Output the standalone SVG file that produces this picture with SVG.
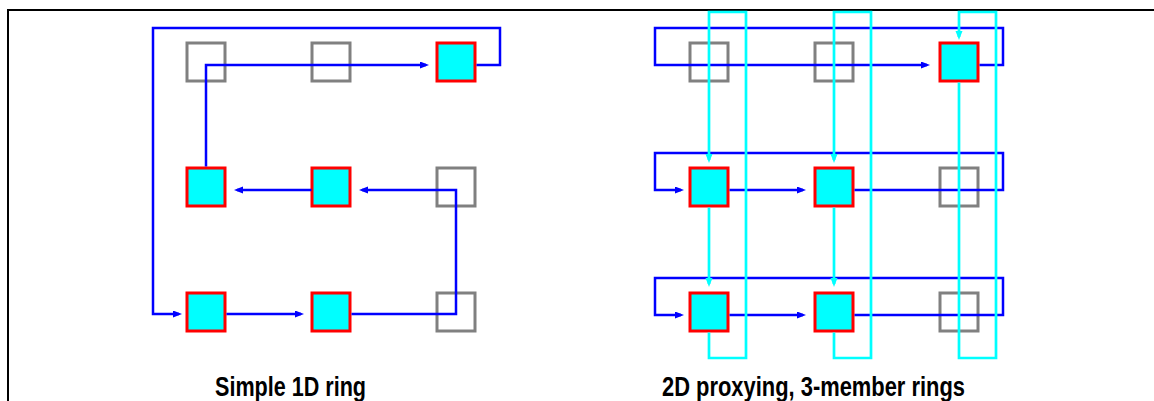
<svg xmlns="http://www.w3.org/2000/svg" width="1154" height="401" viewBox="0 0 1154 401">
<style>
.g{fill:none;stroke:#808080;stroke-width:3}
.r{fill:#00FFFF;stroke:#FF0000;stroke-width:3}
.b{fill:none;stroke:#0000FF;stroke-width:2.5}
.c{fill:none;stroke:#00FFFF;stroke-width:2.7}
.t{font-family:"Liberation Sans",Arial,sans-serif;font-weight:bold;font-size:28px;fill:#000}
</style>
<defs>
<marker id="ab" markerUnits="userSpaceOnUse" markerWidth="10" markerHeight="8" refX="6" refY="3.5" orient="auto"><path d="M0,0 L9,3.5 L0,7 z" fill="#0000FF"/></marker>
<marker id="ac" markerUnits="userSpaceOnUse" markerWidth="10" markerHeight="8" refX="6" refY="3.5" orient="auto"><path d="M0,0 L9,3.5 L0,7 z" fill="#00FFFF"/></marker>
</defs>
<rect width="1154" height="401" fill="#fff"/>
<path d="M8,402 V10 H1156" fill="none" stroke="#000" stroke-width="2"/>
<g id="left-nodes">
<g id="L11"><rect class="g" x="187" y="43" width="38" height="38"/></g>
<g id="L12"><rect class="g" x="312" y="43" width="38" height="38"/></g>
<g id="L13"><rect class="r" x="437" y="43" width="38" height="38"/></g>
<g id="L21"><rect class="r" x="187" y="168" width="38" height="38"/></g>
<g id="L22"><rect class="r" x="312" y="168" width="38" height="38"/></g>
<g id="L23"><rect class="g" x="437" y="168" width="38" height="38"/></g>
<g id="L31"><rect class="r" x="187" y="293" width="38" height="38"/></g>
<g id="L32"><rect class="r" x="312" y="293" width="38" height="38"/></g>
<g id="L33"><rect class="g" x="437" y="293" width="38" height="38"/></g>
</g>
<g id="right-nodes">
<g id="R11"><rect class="g" x="690" y="43" width="38" height="38"/></g>
<g id="R12"><rect class="g" x="815" y="43" width="38" height="38"/></g>
<g id="R13"><rect class="r" x="940" y="43" width="38" height="38"/></g>
<g id="R21"><rect class="r" x="690" y="168" width="38" height="38"/></g>
<g id="R22"><rect class="r" x="815" y="168" width="38" height="38"/></g>
<g id="R23"><rect class="g" x="940" y="168" width="38" height="38"/></g>
<g id="R31"><rect class="r" x="690" y="293" width="38" height="38"/></g>
<g id="R32"><rect class="r" x="815" y="293" width="38" height="38"/></g>
<g id="R33"><rect class="g" x="940" y="293" width="38" height="38"/></g>
</g>
<g id="connectors">
<path class="b" d="M476.5,65 H500 V28 H153 V314 H179" marker-end="url(#ab)"/>
<path class="b" d="M226.5,314 H301" marker-end="url(#ab)"/>
<path class="b" d="M351.5,314 H456 V190 H362" marker-end="url(#ab)"/>
<path class="b" d="M311.5,190 H237" marker-end="url(#ab)"/>
<path class="b" d="M206,166.5 V65 H426" marker-end="url(#ab)"/>
<path class="b" d="M979.5,65 H1003 V28 H655 V65 H927" marker-end="url(#ab)"/>
<path class="b" d="M729.5,190 H803" marker-end="url(#ab)"/>
<path class="b" d="M854.5,190 H1003 V153 H655 V190 H681" marker-end="url(#ab)"/>
<path class="b" d="M729.5,315 H803" marker-end="url(#ab)"/>
<path class="b" d="M854.5,315 H1003 V278 H655 V315 H681" marker-end="url(#ab)"/>
<path class="c" d="M709,207.5 V284" marker-end="url(#ac)"/>
<path class="c" d="M709,332.5 V358 H746 V12 H709 V160" marker-end="url(#ac)"/>
<path class="c" d="M834,207.5 V284" marker-end="url(#ac)"/>
<path class="c" d="M834,332.5 V358 H871 V12 H834 V160" marker-end="url(#ac)"/>
<path class="c" d="M959,82.5 V358 H996 V12 H959 V37" marker-end="url(#ac)"/>
</g>
<g id="labels">
<text class="t" x="290.5" y="396" text-anchor="middle" textLength="151" lengthAdjust="spacingAndGlyphs">Simple 1D ring</text>
<text class="t" x="813.5" y="396" text-anchor="middle" textLength="303" lengthAdjust="spacingAndGlyphs">2D proxying, 3-member rings</text>
</g>
</svg>
